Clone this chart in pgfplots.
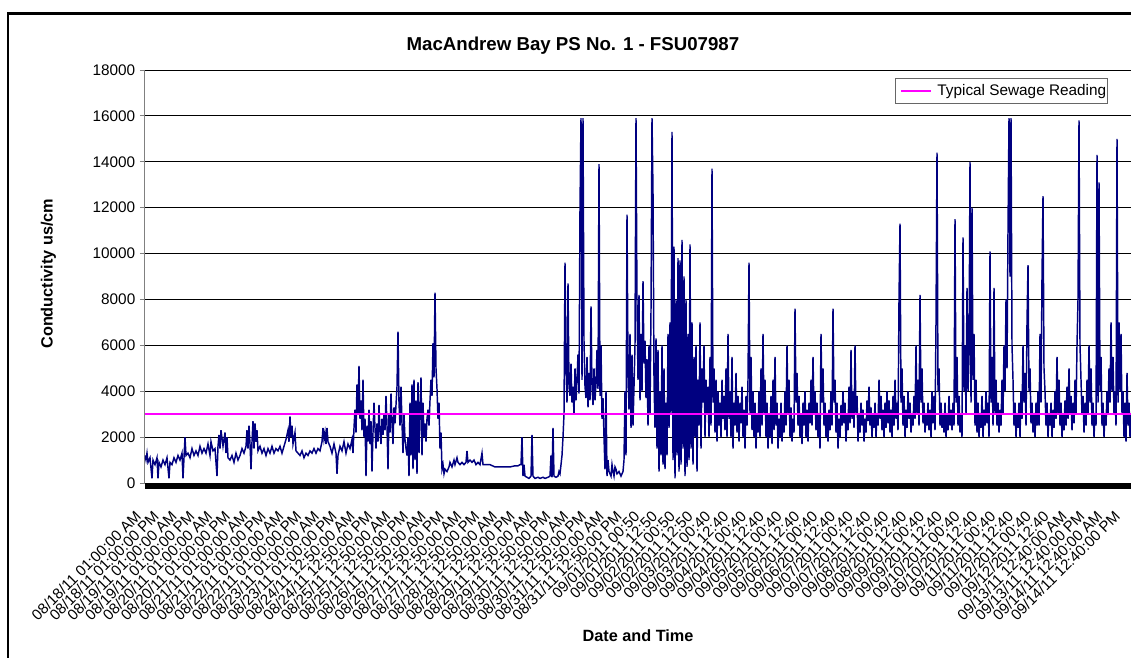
\documentclass[border=0pt]{standalone}
\usepackage{fontspec}
\setmainfont{Liberation Sans}
\usepackage{pgfplots}
\pgfplotsset{compat=1.18}
\definecolor{seriesnavy}{RGB}{0,0,128}
\definecolor{sewage}{RGB}{255,0,255}
\begin{document}
\begin{tikzpicture}
\useasboundingbox (-108.75pt,-130.5pt) rectangle (739.5pt,362.25pt);
\clip (-108.75pt,-130.5pt) rectangle (739.5pt,362.25pt);
\begin{axis}[
  name=ax,
  scale only axis, width=739.5pt, height=309.75pt,
  at={(0,0)}, anchor=south west,
  xmin=0, xmax=986, ymin=0, ymax=18000,
  axis x line*=bottom, axis y line*=left,
  axis line style={gray, line width=0.75pt},
  tick align=outside, major tick length=3.75pt,
  xtick style={draw=none},
  ytick style={gray, line width=0.75pt},
  ytick={0,2000,...,18000},
  scaled y ticks=false,
  /pgf/number format/1000 sep={},
  /pgf/number format/assume math mode=true,
  ymajorgrids, major grid style={black, line width=0.6pt},
  yticklabel style={font=\fontsize{11.5}{13}\selectfont},
  xtick={0,17.8,...,979.1},
  xticklabels={08/18/11 01:00:00 AM,08/18/11 01:00:00 PM,08/19/11 01:00:00 AM,08/19/11 01:00:00 PM,08/20/11 01:00:00 AM,08/20/11 01:00:00 PM,08/21/11 01:00:00 AM,08/21/11 01:00:00 PM,08/22/11 01:00:00 AM,08/22/11 01:00:00 PM,08/23/11 01:00:00 AM,08/23/11 01:00:00 PM,08/24/11 12:50:00 AM,08/24/11 12:50:00 PM,08/25/11 12:50:00 AM,08/25/11 12:50:00 PM,08/26/11 12:50:00 AM,08/26/11 12:50:00 PM,08/27/11 12:50:00 AM,08/27/11 12:50:00 PM,08/28/11 12:50:00 AM,08/28/11 12:50:00 PM,08/29/11 12:50:00 AM,08/29/11 12:50:00 PM,08/30/11 12:50:00 AM,08/30/11 12:50:00 PM,08/31/11 12:50:00 AM,08/31/11 12:50:00 PM,09/01/2011 00:50,09/01/2011 12:50,09/02/2011 00:50,09/02/2011 12:50,09/03/2011 00:40,09/03/2011 12:40,09/04/2011 00:40,09/04/2011 12:40,09/05/2011 00:40,09/05/2011 12:40,09/06/2011 00:40,09/06/2011 12:40,09/07/2011 00:40,09/07/2011 12:40,09/08/2011 00:40,09/08/2011 12:40,09/09/2011 00:40,09/09/2011 12:40,09/10/2011 00:40,09/10/2011 12:40,09/11/2011 00:40,09/11/2011 12:40,09/12/2011 00:40,09/12/2011 12:40,09/13/11 12:40:00 AM,09/13/11 12:40:00 PM,09/14/11 12:40:00 AM,09/14/11 12:40:00 PM},
  xticklabel style={font=\fontsize{11.3}{13}\selectfont, inner sep=0pt, xshift=-8pt, yshift=-16pt, rotate=45, anchor=north east},
  title={MacAndrew Bay PS No. 1 - FSU07987},
  title style={font=\bfseries\fontsize{14}{16}\selectfont, at={(0.434,1)}, anchor=base, yshift=9pt},
  xlabel={Date and Time},
  xlabel style={font=\bfseries\fontsize{12.2}{14}\selectfont, at={(0.5,0)}, anchor=base, yshift=-118.9pt},
  ylabel={Conductivity us/cm},
  ylabel style={font=\bfseries\fontsize{12.2}{14}\selectfont, at={(-0.0979,0.507)}, anchor=center},
  legend style={at={(0.9767,0.9806)}, anchor=north east, draw=black!60, line width=0.75pt, fill=white,
    font=\fontsize{11.5}{13}\selectfont, inner xsep=0pt, inner ysep=1.1pt, column sep=3pt,
    nodes={inner xsep=1pt, inner ysep=3.2pt}},
  legend image code/.code={\path (0pt,0pt); \draw[#1] (3.5pt,0pt) -- (26pt,0pt);},
]
% conductivity record, x = position along the record
\addplot[seriesnavy, line width=1.1pt, forget plot] coordinates {
(0,1200)(1,1000)(2,1300)(3,900)(5,1100)(7,200)(8,1000)(10,800)(12,1100)(13,200)(14,900)(16,700)(18,1000)(20,800)(22,1100)(24,200)(25,900)(27,800)(29,1100)(31,900)(33,1200)(35,1000)(37,1300)(38,200)(39,1100)(40,2000)(41,1200)
(43,1300)(45,1100)(47,1500)(49,1200)(51,1400)(53,1200)(55,1600)(57,1300)(59,1500)(61,1300)(63,1700)(65,1200)(66,1800)(68,1400)(70,1500)(72,300)(73,1600)(74,2100)(75,1500)(76,2300)(78,1600)(80,2200)
(81,1300)(82,2000)(83,1100)(85,1000)(87,1200)(89,900)(91,1300)(93,1000)(95,1200)(97,1500)(99,1300)(101,1600)(102,2300)(103,1500)(104,2500)(105,1700)(106,600)(107,1800)(108,2700)(109,1500)(110,2600)(111,1800)(112,2300)(113,1400)(115,1600)(117,1300)
(119,1500)(121,1200)(123,1500)(125,1300)(127,1600)(129,1300)(131,1500)(133,1400)(135,1600)(137,1300)(139,1600)(141,1900)(143,2300)(144,1800)(145,2900)(146,2000)(147,2500)(148,1700)(150,2200)(151,1400)(153,1300)(155,1200)(157,1400)(159,1100)(161,1300)(163,1200)(165,1400)(167,1300)(169,1500)(171,1300)(173,1500)(175,1400)(177,1800)(178,2400)(179,1900)(180,2200)(181,1700)(182,2400)(183,1800)(185,1600)(187,1300)(189,1700)(191,1300)(192,400)(193,1200)(195,1600)(197,1400)(199,1800)(201,1300)(203,1700)(205,1500)
(207,1900)(208,1300)(209,2400)(210,3200)(211,2200)(212,4300)(213,3000)(214,5100)(215,2800)(216,3600)(217,2300)(218,4500)(219,2000)(220,2800)(221,300)(222,2500)(223,1800)(224,3200)(225,1700)(226,2700)(227,500)(228,2200)(229,3500)(230,2400)(231,1500)(232,2600)(233,1800)(234,3400)(235,2200)(236,1700)(237,2800)(238,2100)(239,3000)(240,2300)(241,3800)(242,2500)(243,600)(244,3000)(245,2200)(246,3900)(247,2600)(248,1700)(249,3300)(250,2600)(251,3400)(252,4200)(253,6600)(254,3500)(255,2500)(256,4200)(257,2600)(258,1300)(259,3000)(260,1900)(261,1500)(262,1200)(263,2000)(264,300)(265,3500)(266,1200)(267,4300)(268,600)(269,4500)(270,1000)(271,3600)(272,400)(273,4400)(274,1300)(275,3200)(276,4600)(277,1200)(278,3500)(279,2000)(280,2600)(281,1800)(282,2800)(283,3200)(284,2500)(285,3600)(286,4500)(287,3800)(288,6100)(289,4600)(290,8300)(291,5000)(292,4100)(293,2800)(294,3500)(295,1500)(296,2200)(297,600)(298,800)
(299,400)(300,600)(302,500)(304,700)(305,900)(307,700)(309,1000)(310,800)(312,1100)(313,900)(315,800)(317,900)(319,800)(321,900)(322,1400)(323,900)(325,1000)(327,900)(329,1000)(331,800)(333,900)(335,800)(337,1300)(338,800)(340,800)(345,800)(350,700)(355,700)(360,700)(365,700)(370,750)(373,750)(375,800)
(376,800)(377,2000)(378,300)(379,800)(380,300)(382,250)(384,200)(386,300)(387,2100)(388,300)(390,200)(393,250)(395,200)(398,250)(400,200)(403,250)(405,300)(406,1200)(407,250)(408,2400)(409,300)(411,250)(413,300)(414,500)(415,400)(416,800)(417,1200)(418,2000)(419,3000)(420,9600)
(421,5000)(422,3500)(423,8700)(424,4200)(425,3800)(426,5200)(427,3500)(428,4200)(429,3000)(430,5000)(431,3600)(432,4500)(433,5600)(434,3900)(435,12000)(436,15900)(437,4500)(438,15900)(439,6200)(440,4200)(441,3700)(442,5500)(443,3300)(444,4800)(445,3600)(446,7700)(447,4200)(448,3400)(449,5000)(450,3600)(451,4300)(452,5800)(453,4100)(454,13900)(455,3800)(456,6000)(457,2800)(458,3700)(459,2000)(460,600)(461,4000)(462,300)(463,1000)(464,500)(465,400)(466,300)(467,800)(468,500)(469,300)(470,700)(471,600)(472,400)(474,500)(476,300)(478,500)(479,1000)
(480,4000)(481,1200)(482,11700)(483,5000)(484,3200)(485,6500)(486,2400)(487,5600)(488,2500)(489,4200)(490,6000)(491,15900)(492,7800)(493,4500)(494,8200)(495,3600)(496,6500)(497,4000)(498,8800)(499,5200)(500,6200)(501,3700)(502,5400)(503,2500)(504,6000)(505,3000)(506,7500)(507,15900)(508,12700)(509,4500)(510,2400)(511,6300)(512,1500)(513,5800)(514,500)(515,4000)(516,1200)(517,6000)(518,800)(519,5000)(520,600)(521,3500)(522,1200)(523,6500)(524,2400)(525,7000)(526,3000)(527,15300)(528,1000)(529,10300)(530,200)(531,8000)(532,1200)(533,9800)(534,500)(535,9700)(536,800)(537,10600)(538,1500)(539,9000)(540,300)(541,8000)(542,700)(543,6500)(544,1000)(545,10400)(546,1500)(547,7000)(548,800)(549,5500)(550,2000)(551,6000)(552,500)(553,4500)(554,2500)(555,7000)
(556,1500)(557,5000)(558,3500)(559,6000)(560,2000)(561,4500)(562,3000)(563,4200)(564,2000)(565,5500)(566,2500)(567,13700)(568,3500)(569,5000)(570,2200)(571,4500)(572,1800)(573,4000)(574,2500)(575,3500)(576,2000)(577,4500)(578,2800)(579,3800)(580,2300)(581,5000)(582,2000)(583,6500)(584,2800)(585,4000)(586,2000)(587,5500)(588,1500)(589,3500)(590,2500)(591,4800)(592,2200)(593,3800)(594,1800)(595,3500)(596,2600)(597,4200)(598,2000)(599,3200)(600,1500)(601,3800)(602,2500)(603,4500)(604,9600)(605,3000)(606,5500)(607,2300)(608,4000)(609,2000)(610,3500)(611,1500)(612,3000)(613,2200)(614,4000)(615,2000)
(616,5000)(617,2500)(618,6500)(619,3000)(620,4500)(621,2000)(622,3500)(623,1500)(624,3000)(625,2000)(626,3800)(627,1700)(628,4500)(629,2300)(630,5500)(631,2500)(632,3500)(633,1500)(634,2800)(635,2000)(636,3500)(637,1800)(638,3000)(639,2200)(640,4000)(641,2500)(642,6000)(643,3000)(644,4500)(645,2000)(646,3300)(647,1800)(648,2800)(649,2200)(650,7600)(651,3500)(652,4800)(653,2500)(654,3800)(655,2000)(656,3000)(657,1700)(658,3500)(659,2500)(660,4000)(661,2000)(662,3200)(663,1800)(664,3500)(665,2600)(666,4500)(667,2500)(668,5500)(669,3000)(670,4000)(671,2300)(672,3500)(673,2000)(674,3000)(675,1500)(676,6500)(677,3500)(678,5000)(679,2500)(680,3500)(681,2000)(682,3000)(683,1800)(684,3200)(685,2300)(686,4000)(687,2500)(688,7600)(689,3500)(690,4500)(691,2200)(692,3500)(693,1500)(694,2800)(695,2000)(696,3400)(697,2500)(698,4000)(699,2600)(700,3500)(701,1800)(702,3000)(703,2300)(704,4200)(705,2600)(706,5800)(707,2800)(708,4000)(709,2400)(710,6000)(711,3000)(712,3800)(713,1800)(714,3000)(715,2200)(716,3500)(717,2500)(718,3200)(719,1800)(720,2800)(721,2200)(722,3600)(723,2700)(724,4200)(725,2500)(726,3300)(727,2000)(728,3000)(729,2400)(730,3500)(731,2000)(732,3000)(733,2500)(734,4500)(735,2800)(736,3800)(737,2300)(738,3200)(739,2000)(740,3500)(741,2400)(742,4000)(743,2600)(744,3600)(745,2200)(746,3200)(747,2000)(748,3800)(749,2500)(750,4500)(751,2800)(752,3500)(753,2300)(754,8000)(755,11300)
(756,3500)(757,5000)(758,2500)(759,3800)(760,2000)(761,3200)(762,2400)(763,4000)(764,2800)(765,3500)(766,2200)(767,3000)(768,2500)(769,3800)(770,2800)(771,6000)(772,3000)(773,4500)(774,2500)(775,8200)(776,3500)(777,5000)(778,2600)(779,3500)(780,2200)(781,3000)(782,2500)(783,3500)(784,2300)(785,3200)(786,2000)(787,4000)(788,2600)(789,3800)(790,2300)(791,7000)(792,14400)(793,4000)(794,5000)(795,2500)(796,3500)(797,2400)(798,3000)(799,2200)(800,3500)(801,2000)(802,3000)(803,2300)(804,3800)(805,2500)(806,3200)(807,2300)(808,3500)(809,2500)(810,11500)(811,3500)(812,5500)(813,2500)(814,3800)(815,2200)(816,3000)(817,2000)(818,10700)(819,4000)(820,6000)(821,3000)(822,8500)(823,4000)(824,5500)(825,14000)(826,3500)(827,12000)(828,4500)(829,6500)(830,2500)(831,4500)(832,2200)(833,3500)(834,2000)(835,3000)(836,2400)(837,3800)(838,2000)(839,3200)(840,2500)(841,4000)(842,2600)(843,3500)(844,2000)(845,10100)(846,3500)(847,5500)(848,2500)(849,8500)(850,3000)(851,4500)(852,2500)(853,3500)(854,2200)(855,3200)(856,2500)(857,4500)(858,3000)(859,6000)(860,4000)(861,8000)(862,5000)(863,11000)(864,15900)(865,9000)(866,15900)(867,6000)(868,4500)(869,2500)(870,3500)(871,2000)(872,3000)(873,2400)(874,3500)(875,2000)(876,4000)(877,2800)(878,6000)(879,3500)(880,4800)(881,2500)(882,7000)(883,9500)(884,4000)(885,5000)(886,2600)(887,3500)(888,2200)(889,3000)(890,2000)(891,3500)(892,2500)(893,4000)(894,2500)(895,6500)(896,3500)(897,9000)(898,12500)(899,5000)(900,4000)(901,2500)(902,3500)(903,2000)(904,3000)(905,2500)(906,3500)(907,2000)(908,3200)(909,2400)(910,4000)(911,2800)(912,5500)(913,3000)(914,4500)(915,2500)(916,3500)(917,2000)(918,3000)(919,2300)(920,3600)(921,2500)(922,4200)(923,2800)(924,5000)(925,3000)(926,3800)(927,2300)(928,3500)(929,2600)(930,4500)(931,3000)(932,6000)(933,8000)(934,15800)(935,6000)(936,4500)(937,3000)(938,3800)(939,2200)(940,3500)(941,2500)(942,4500)(943,3000)(944,6000)(945,3500)(946,5000)(947,2500)(948,3500)(949,2000)(950,3000)(951,2500)(952,14300)(953,3500)(954,13100)(955,4000)(956,5500)(957,2500)(958,3500)(959,2000)(960,3000)(961,2500)(962,4000)(963,3000)(964,5000)(965,3500)(966,7000)(967,4000)(968,5500)(969,3000)(970,4000)(971,2500)(972,15000)(973,3500)(974,7000)(975,4000)(976,6500)(977,3000)(978,4000)(979,2000)(980,3500)(981,1800)(982,4800)(983,2500)(984,3500)(985,2000)(986,3000)
};
\addplot[sewage, line width=1.2pt] coordinates {(0,3000) (986,3000)};
\addlegendentry{Typical Sewage Reading}
\end{axis}
\fill[black] (ax.south west) rectangle ([yshift=-4.5pt]ax.south east);
\draw[line width=2pt] (-102.75pt,-200pt) -- (-102.75pt,352.3pt) -- (800pt,352.3pt);
\end{tikzpicture}
\end{document}
